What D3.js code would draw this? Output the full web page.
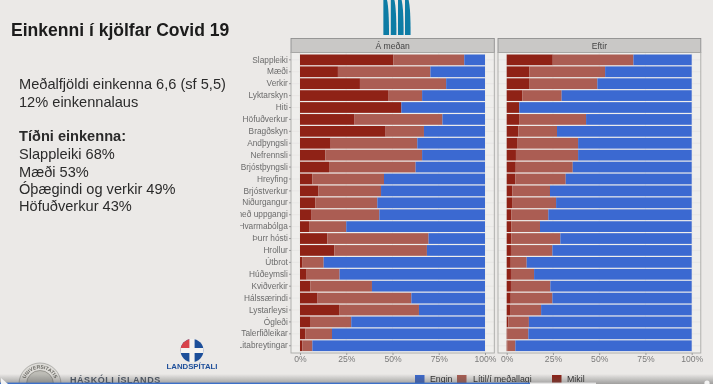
<!DOCTYPE html>
<html><head><meta charset="utf-8">
<script src="https://cdn.jsdelivr.net/npm/d3@7"></script>
<style>
html,body{margin:0;padding:0;background:#ebe9e7;overflow:hidden}
svg{display:block}
text{font-family:"Liberation Sans",Arial,sans-serif}
</style></head><body><svg id="c" width="713" height="384"></svg>
<script>
const categories=["Slappleiki","Mæði","Verkir","Lyktarskyn","Hiti","Höfuðverkur","Bragðskyn","Andþyngsli","Nefrennsli","Brjóstþyngsli","Hreyfing","Brjóstverkur","Niðurgangur","Hósti með uppgangi","Hvarmabólga","Þurr hósti","Hrollur","Útbrot","Húðeymsli","Kviðverkir","Hálssærindi","Lystarleysi","Ógleði","Talerfiðleikar","Litabreytingar"];
const duringMikil=[50.5,20.5,32.4,47.6,54.8,29.5,46.3,16.6,13.7,15.7,6.7,10,8.3,6.3,4.9,14.8,18.6,1.4,3.6,5.6,9.5,21.4,5.4,2.9,1.3];
const duringAnyEnd=[88.8,70.5,79,66,54.8,77,67,63.4,66,62.5,45.4,43.8,41.8,42.9,25,69.5,68.6,12.8,21.4,38.9,60.2,64.3,27.7,17.3,6.7];
const afterMikil=[24.9,12.3,12.1,8.5,6.8,6.7,6.3,5.6,5,4.9,4.7,3.1,2.9,2.5,2.5,2.5,2.3,2.2,2.3,2.3,2.2,1.8,0.9,0.5,0.4];
const afterAnyEnd=[68.5,53.2,49,29.7,6.8,42.9,27.2,38.6,38.6,35.7,31.9,23.4,26.7,22.5,18,29,24.7,10.8,14.8,23.6,24.7,18.6,12,11.7,4.7];
const panelTitles=["Á meðan","Eftir"];
const legendLabels=["Engin","Lítil/í meðallagi","Mikil"];
const xTicks=[0,25,50,75,100];
const textLines=[["Meðalfjöldi einkenna 6,6 (sf 5,5)",89,400],["12% einkennalaus",106.5,400],["Tíðni einkenna:",141,700],["Slappleiki 68%",159,400],["Mæði 53%",176.5,400],["Óþægindi og verkir 49%",194,400],["Höfuðverkur 43%",211,400]];
const COL={engin:"#3b69d1",litil:"#ab5d52",mikil:"#8f2217"};

const svg=d3.select("#c");
const defs=svg.append("defs");
defs.append("filter").attr("id","soft").attr("x",0).attr("y",0).attr("width","100%").attr("height","100%")
  .append("feGaussianBlur").attr("stdDeviation",0.45);
defs.append("clipPath").attr("id","labelClip").append("rect").attr("x",240).attr("y",40).attr("width",60).attr("height",320);
defs.append("path").attr("id","sealArc").attr("d","M-15,4 A15.5,15.5 0 1 1 15,4");
const grad=defs.append("linearGradient").attr("id","fade").attr("x1",0).attr("y1",0).attr("x2",0).attr("y2",1);
grad.append("stop").attr("offset","0%").attr("stop-color","#555").attr("stop-opacity",0);
grad.append("stop").attr("offset","100%").attr("stop-color","#555").attr("stop-opacity",.5);

const root=svg.append("g").attr("filter","url(#soft)");
root.append("rect").attr("width",713).attr("height",384).attr("fill","#ebe9e7");

root.append("text").attr("x",11).attr("y",36).attr("font-size",17.55).attr("font-weight",700).attr("fill","#1a1a1a").text("Einkenni í kjölfar Covid 19");
root.selectAll("text.b").data(textLines).join("text").attr("class","b").attr("x",19).attr("y",d=>d[1])
  .attr("font-size",14.6).attr("font-weight",d=>d[2]).attr("fill","#2b2b2b").text(d=>d[0]);

// top logo
root.append("g").selectAll("path").data([383.4,390.8,398,405]).join("path")
  .attr("transform",d=>`translate(${d},0)`)
  .attr("d","M0,0 L3.6,0 Q5.6,8 5.6,35 L0,35 Z").attr("fill","#0b7ba5");

const y=d3.scaleBand().domain(categories).range([53.9,351.7]).paddingInner(0.1).paddingOuter(0.05);
function panel(p){
  const x=d3.scaleLinear().domain([0,100]).range([p.x0,p.x1]);
  const g=root.append("g");
  g.append("rect").attr("x",p.left).attr("y",52).attr("width",p.right-p.left).attr("height",301).attr("fill","#efeeec");
  g.selectAll("line.v").data(xTicks).join("line").attr("x1",d=>x(d)).attr("x2",d=>x(d)).attr("y1",52).attr("y2",353).attr("stroke","#e2e1df").attr("stroke-width",.6);
  g.selectAll("line.h").data(categories).join("line").attr("x1",p.left).attr("x2",p.right).attr("y1",d=>y(d)+y.bandwidth()/2).attr("y2",d=>y(d)+y.bandwidth()/2).attr("stroke","#e2e1df").attr("stroke-width",.6);
  const rows=categories.map((c,i)=>({c,a:p.mikil[i],b:p.end[i]}));
  const bars=[[d=>0,d=>d.a,COL.mikil],[d=>d.a,d=>d.b,COL.litil],[d=>d.b,d=>100,COL.engin]];
  bars.forEach(([s,e,col])=>{
    g.append("g").selectAll("rect").data(rows).join("rect")
      .attr("x",d=>x(s(d))).attr("width",d=>Math.max(0,x(e(d))-x(s(d))))
      .attr("y",d=>y(d.c)).attr("height",y.bandwidth()).attr("fill",col);
  });
  g.append("rect").attr("x",p.left).attr("y",38.5).attr("width",p.right-p.left).attr("height",14).attr("fill","#c9c8c6").attr("stroke","#8f8f8f").attr("stroke-width",.9);
  g.append("rect").attr("x",p.left).attr("y",52.5).attr("width",p.right-p.left).attr("height",300.5).attr("fill","none").attr("stroke","#a9a9a7").attr("stroke-width",.9);
  g.append("text").attr("x",(p.left+p.right)/2).attr("y",49).attr("text-anchor","middle").attr("font-size",8.6).attr("fill","#444").text(p.title);
  const ax=g.append("g").attr("transform","translate(0,353)").call(d3.axisBottom(x).tickValues(xTicks).tickFormat(d=>d+"%").tickSize(2).tickPadding(.5));
  ax.select(".domain").remove();
  ax.selectAll("line").attr("stroke","#999");
  ax.selectAll("text").attr("font-size",8.6).attr("fill","#7b7b7b").attr("font-family",'"Liberation Sans",Arial,sans-serif');
}
panel({title:panelTitles[0],left:291,right:494.3,x0:300,x1:485,mikil:duringMikil,end:duringAnyEnd});
panel({title:panelTitles[1],left:498,right:700.8,x0:506.7,x1:691.7,mikil:afterMikil,end:afterAnyEnd});

const ay=root.append("g").attr("clip-path","url(#labelClip)").append("g").attr("transform","translate(291,0)").call(d3.axisLeft(y).tickSize(2).tickPadding(1.2));
ay.select(".domain").remove();
ay.selectAll("line").attr("stroke","#999");
ay.selectAll("text").attr("font-size",8.3).attr("fill","#6b6b6b").attr("font-family",'"Liberation Sans",Arial,sans-serif');

// legend
const lg=[[415,430,COL.engin],[457,473,COL.litil],[552,567,COL.mikil]];
root.selectAll("rect.lg").data(lg).join("rect").attr("class","lg").attr("x",d=>d[0]).attr("y",375).attr("width",9.5).attr("height",9).attr("fill",d=>d[2]);

// Landspítali logo
const L=root.append("g").attr("transform","translate(192,350.5)");
L.append("circle").attr("r",11.5).attr("fill","#1f4f9a");
L.append("path").attr("d","M-11.5,0 A11.5,11.5 0 0 1 0,-11.5 L0,0 Z").attr("fill","#d8434c");
L.append("path").attr("d","M-2.6,-11.5 H2.6 V-2.6 H11.5 V2.6 H2.6 V11.5 H-2.6 V2.6 H-11.5 V-2.6 H-2.6 Z").attr("fill","#f3f2f0");
root.append("text").attr("x",192).attr("y",369.3).attr("text-anchor","middle").attr("font-size",7.8).attr("font-weight",700).attr("font-family","Liberation Serif").attr("fill","#1f4f9a").text("LANDSPÍTALI");

// Háskóli Íslands footer
const S=root.append("g").attr("transform","translate(40,384)");
S.append("circle").attr("r",21).attr("fill","#dedcd8").attr("stroke","#9a9995").attr("stroke-width",.7);
S.append("circle").attr("r",13.5).attr("fill","#bdbcb6").attr("stroke","#77766f").attr("stroke-width",.6);
S.append("text").attr("font-size",5).attr("font-weight",700).attr("fill","#66655f").attr("text-anchor","middle")
  .append("textPath").attr("href","#sealArc").attr("startOffset","50%").text("UNIVERSITATIS");
root.append("text").attr("x",70).attr("y",382.7).attr("font-size",9).attr("font-weight",700).attr("letter-spacing",.55).attr("fill","#4b5563").text("HÁSKÓLI ÍSLANDS");

// video player bar
root.append("rect").attr("x",0).attr("y",374).attr("width",713).attr("height",10).attr("fill","url(#fade)");
root.selectAll("text.lg").data(lg).join("text").attr("class","lg").attr("x",d=>d[1]).attr("y",382).attr("font-size",8.8).attr("fill","#333").text((d,i)=>legendLabels[i]);
root.append("rect").attr("x",0).attr("y",382.6).attr("width",530).attr("height",1.4).attr("fill","#3d70c8");
root.append("rect").attr("x",530).attr("y",382.6).attr("width",66).attr("height",1.4).attr("fill","#e6e6e6");
root.append("path").attr("d","M1,378 L8,384 L1,384 Z").attr("fill","#f4f4f4");
root.append("circle").attr("cx",707).attr("cy",383).attr("r",2.6).attr("fill","#f4f4f4");
</script></body></html>
